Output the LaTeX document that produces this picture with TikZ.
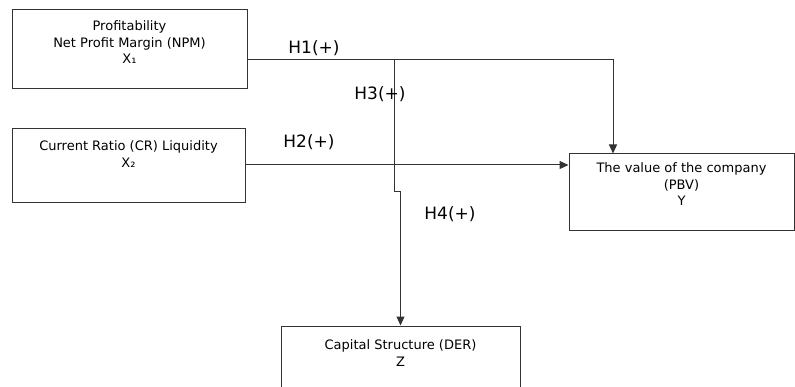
\documentclass[tikz,border=0pt]{standalone}
\usepackage{fontspec}
\setmainfont{DejaVu Sans}
\usetikzlibrary{arrows.meta,positioning}

\newcommand*{\picw}{795}
\newcommand*{\pich}{387}

\begin{document}
\begin{tikzpicture}
[
	x=1pt, y=-1pt,
	varbox/.style={rectangle,draw=black!80,line width=1pt,inner sep=0pt},
	boxtext/.style={align=center,inner sep=0pt,font=\fontsize{13}{16.5}\selectfont,anchor=north},
	hyp/.style={inner sep=0pt,font=\fontsize{17}{20}\selectfont},
	link/.style={draw=black!80,line width=1pt,-{Triangle[length=9pt,width=8pt]}}
]

	\useasboundingbox (0,0) rectangle (\picw,\pich);

	% boxes
	\node[varbox,minimum width=235pt,minimum height=79pt] at (129.5,49.5) (npm) {};
	\node[varbox,minimum width=233pt,minimum height=74pt] at (128.5,166) (cr) {};
	\node[varbox,minimum width=225pt,minimum height=77pt] at (681.5,192.5) (pbv) {};
	\node[varbox,minimum width=239pt,minimum height=80pt] at (400.5,366) (der) {};

	\node[boxtext,below=11pt of npm.north] (npmtext) {Profitability\\Net Profit Margin (NPM)\\X₁};
	\node[boxtext,below=12pt of cr.north] (crtext) {Current Ratio (CR) Liquidity\\X₂};
	\node[boxtext,below=9pt of pbv.north] (pbvtext) {The value of the company\\(PBV)\\Y};
	\node[boxtext,below=14pt of der.north] (dertext) {Capital Structure (DER)\\Z};

	% turning points
	\coordinate (split) at (394,60);
	\coordinate (bend) at (394,192);
	\coordinate (drop) at (613,60);

	% paths
	\draw[link] (npm.east |- split) -- (drop) -- (drop |- pbv.north);
	\draw[link] ([yshift=1pt]cr.east) -- ([yshift=1pt]cr.east -| pbv.west);
	\draw[link] (split) -- (bend) -| (der.north);

	% hypotheses
	\node[hyp] at (314,48) (h1) {H1(+)};
	\node[hyp] at (380,94) (h3) {H3(+)};
	\node[hyp] at (309,142) (h2) {H2(+)};
	\node[hyp] at (450,214) (h4) {H4(+)};

\end{tikzpicture}
\end{document}
